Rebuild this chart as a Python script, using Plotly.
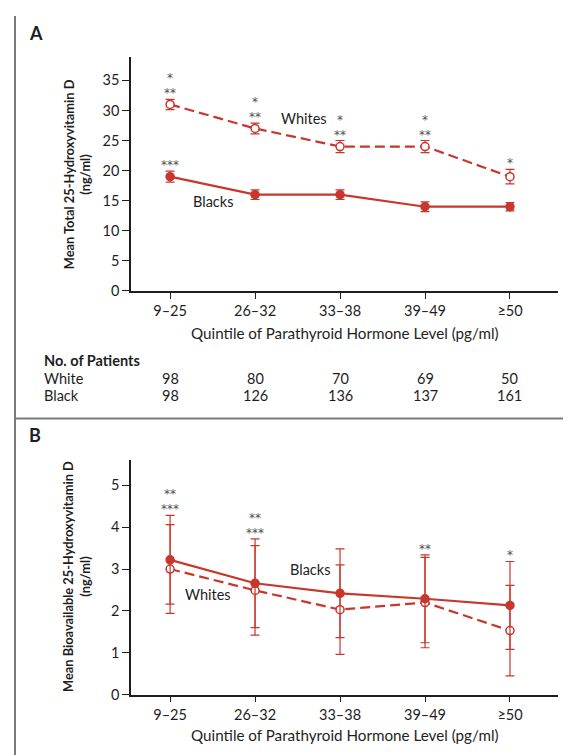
import plotly.graph_objects as go

# ---------------- data ----------------
categories = ["9–25", "26–32", "33–38", "39–49", "≥50"]

# Panel A: mean total 25-hydroxyvitamin D (ng/ml)
total_whites = [31.0, 27.0, 24.0, 24.0, 19.0]
total_whites_err = [0.85, 0.9, 1.0, 1.0, 1.2]
total_blacks = [19.0, 16.0, 16.0, 14.0, 14.0]
total_blacks_err = [0.9, 0.8, 0.8, 0.8, 0.7]
# significance markers, rows listed top to bottom
stars_a_whites = [["*", "**"], ["*", "**"], ["*", "**"], ["*", "**"], ["*"]]
stars_a_blacks = [["***"], [], [], [], []]

# Panel B: mean bioavailable 25-hydroxyvitamin D (ng/ml)
bio_blacks = [3.22, 2.66, 2.42, 2.29, 2.13]
bio_blacks_err = [1.06, 1.06, 1.06, 1.05, 1.05]
bio_whites = [3.0, 2.49, 2.03, 2.20, 1.53]
bio_whites_err = [1.06, 1.07, 1.07, 1.08, 1.08]
stars_b = [["**", "***"], ["**", "***"], [], ["**"], ["*"]]

# Number of patients
patients_white = [98, 80, 70, 69, 50]
patients_black = [98, 126, 136, 137, 161]

# ---------------- style ----------------
W, H = 571, 755
RED = "#c8372d"
TXT = "#1e1e1e"
STAR = "#505050"
FONT = "Lato"
STAR_FONT = "DejaVu Sans"

def px(x):
    return x / W

def py(y):
    return 1 - y / H

xi = list(range(len(categories)))

fig = go.Figure()

def add_series(xaxis, yaxis, vals, errs, dashed, open_marker):
    fig.add_trace(go.Scatter(
        x=xi, y=vals, xaxis=xaxis, yaxis=yaxis, mode="lines+markers",
        line=dict(color=RED, width=2.2, dash="10px,5px" if dashed else "solid"),
        marker=dict(size=8, color="white" if open_marker else RED,
                    line=dict(color=RED, width=1.5)),
        error_y=dict(type="data", array=errs, visible=True, color=RED,
                     thickness=1.2, width=4.5),
        showlegend=False, hoverinfo="skip",
    ))

add_series("x", "y", total_blacks, total_blacks_err, False, False)
add_series("x", "y", total_whites, total_whites_err, True, True)
add_series("x2", "y2", bio_whites, bio_whites_err, True, True)
add_series("x2", "y2", bio_blacks, bio_blacks_err, False, False)

axis_common = dict(
    showline=True, linecolor=TXT, linewidth=1.5, ticks="outside",
    tickcolor=TXT, tickwidth=1.2, showgrid=False, zeroline=False,
    tickfont=dict(family=FONT, size=14.5, color=TXT),
)

dom_x = [px(123), px(550)]
fig.update_layout(
    width=W, height=H, margin=dict(l=0, r=0, t=0, b=0),
    paper_bgcolor="white", plot_bgcolor="white",
    font=dict(family=FONT, color=TXT),
    xaxis=dict(domain=dom_x, anchor="y", range=[-0.46, 4.565],
               tickvals=xi, ticktext=categories, ticklen=6, **axis_common),
    yaxis=dict(domain=[py(286), py(50)], anchor="x", range=[0, 38.8],
               tickvals=[0, 5, 10, 15, 20, 25, 30, 35], ticklen=7, **axis_common),
    xaxis2=dict(domain=dom_x, anchor="y2", range=[-0.46, 4.565],
                tickvals=xi, ticktext=categories, ticklen=6, **axis_common),
    yaxis2=dict(domain=[py(694), py(457)], anchor="x2", range=[0, 5.6],
                tickvals=[0, 1, 2, 3, 4, 5], ticklen=7, **axis_common),
)

ann = []

def text(x, y, s, size=14, bold=False, xanchor="center", yanchor="middle",
         xref="paper", yref="paper", color=TXT, angle=0, yshift=0, family=FONT):
    ann.append(dict(x=x, y=y, text=f"<b>{s}</b>" if bold else s, xref=xref, yref=yref,
                    showarrow=False, xanchor=xanchor, yanchor=yanchor, textangle=angle,
                    yshift=yshift, borderpad=0,
                    font=dict(family=family, size=size, color=color)))

# panel letters
text(px(20), py(25), "A", size=18, bold=True, xanchor="left")
text(px(20), py(432), "B", size=18, bold=True, xanchor="left")

# y axis titles
text(px(69), py(168), "Mean Total 25-Hydroxyvitamin D<br>(ng/ml)", size=12.8, bold=True, angle=-90)
text(px(69), py(575), "Mean Bioavailable 25-Hydroxyvitamin D<br>(ng/ml)", size=12.8, bold=True, angle=-90)

# x axis titles
text(px(336.5), py(328), "Quintile of Parathyroid Hormone Level (pg/ml)", size=15.2)
text(px(336.5), py(735), "Quintile of Parathyroid Hormone Level (pg/ml)", size=15.2)

# series labels
text(1.58, 28.6, "Whites", size=14.5, xref="x", yref="y")
text(0.51, 14.8, "Blacks", size=14.5, xref="x", yref="y")
text(1.65, 3.0, "Blacks", size=14.5, xref="x2", yref="y2")
text(0.45, 2.39, "Whites", size=14.5, xref="x2", yref="y2")

# significance stars (stacked above the highest error bar cap)
def stars(i, top, rows, xref, yref):
    for k, s in enumerate(reversed(rows)):
        text(i, top, s, size=12, xref=xref, yref=yref, yanchor="middle",
             color=STAR, family=STAR_FONT, yshift=6 + 15 * k)

for i in xi:
    stars(i, total_whites[i] + total_whites_err[i], stars_a_whites[i], "x", "y")
    stars(i, total_blacks[i] + total_blacks_err[i], stars_a_blacks[i], "x", "y")
    top = max(bio_whites[i] + bio_whites_err[i], bio_blacks[i] + bio_blacks_err[i])
    stars(i, top, stars_b[i], "x2", "y2")

# patients table
text(px(35), py(356), "No. of Patients", size=14.5, bold=True, xanchor="left")
text(px(35), py(374), "White", size=14.5, xanchor="left")
text(px(35), py(392), "Black", size=14.5, xanchor="left")
for i in xi:
    text(i, py(374), str(patients_white[i]), size=14.5, xref="x", yref="paper")
    text(i, py(392), str(patients_black[i]), size=14.5, xref="x", yref="paper")

fig.update_layout(annotations=ann)

# frame
frame = dict(color="#7a7a7a", width=2)
fig.update_layout(shapes=[
    dict(type="line", xref="paper", yref="paper", x0=px(7), x1=px(7), y0=py(8), y1=0, line=frame),
    dict(type="line", xref="paper", yref="paper", x0=px(563), x1=px(563), y0=py(8), y1=0, line=frame),
    dict(type="line", xref="paper", yref="paper", x0=px(7), x1=px(563), y0=py(415), y1=py(415), line=frame),
])

fig.write_html("out.html")
